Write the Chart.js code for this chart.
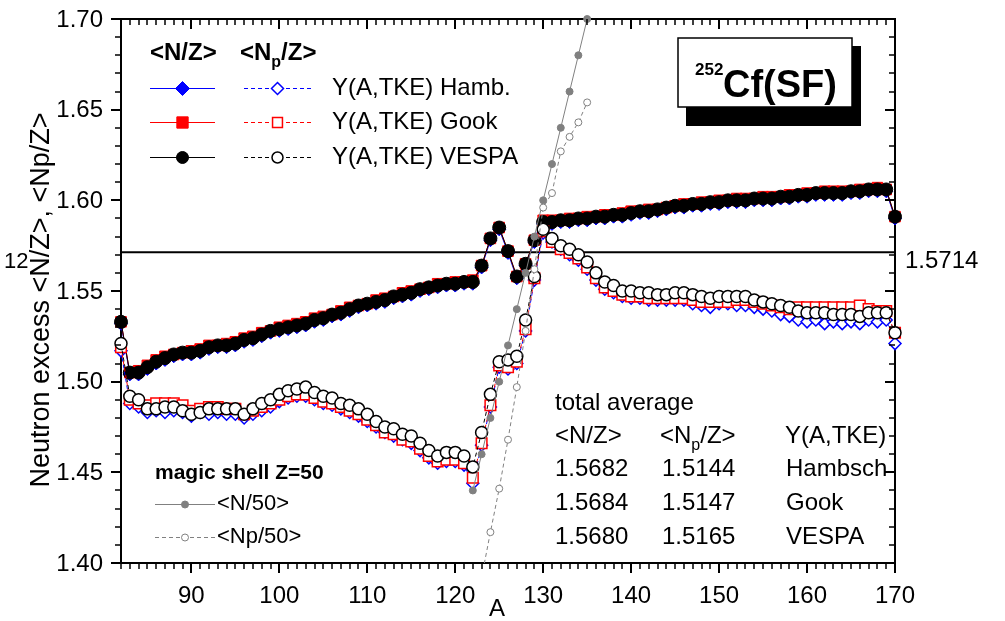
<!DOCTYPE html>
<html>
<head>
<meta charset="utf-8">
<title>252Cf(SF) neutron excess</title>
<script src="https://cdn.jsdelivr.net/npm/chart.js@4.4.0/dist/chart.umd.min.js"></script>
<style>
  html, body { margin: 0; padding: 0; background: #fff; }
  #box { width: 1005px; height: 621px; position: relative; }
</style>
</head>
<body>
<div id="box"><canvas id="nzChart" width="1005" height="621"></canvas></div>
<script>
// fragment mass numbers
const massNumbers = [
  82, 83, 84, 85, 86, 87, 88, 89, 90, 91,
  92, 93, 94, 95, 96, 97, 98, 99, 100, 101,
  102, 103, 104, 105, 106, 107, 108, 109, 110, 111,
  112, 113, 114, 115, 116, 117, 118, 119, 120, 121,
  122, 123, 124, 125, 126, 127, 128, 129, 130, 131,
  132, 133, 134, 135, 136, 137, 138, 139, 140, 141,
  142, 143, 144, 145, 146, 147, 148, 149, 150, 151,
  152, 153, 154, 155, 156, 157, 158, 159, 160, 161,
  162, 163, 164, 165, 166, 167, 168, 169, 170
];

// <N/Z> per mass, three yield sets
const nzHamb = [
  1.532, 1.504, 1.504, 1.507, 1.510, 1.512, 1.514, 1.515, 1.515, 1.516,
  1.518, 1.519, 1.519, 1.520, 1.522, 1.523, 1.525, 1.527, 1.528, 1.529,
  1.530, 1.531, 1.533, 1.534, 1.536, 1.537, 1.539, 1.541, 1.542, 1.543,
  1.544, 1.546, 1.547, 1.548, 1.550, 1.551, 1.552, 1.553, 1.553, 1.554,
  1.554, 1.563, 1.578, 1.584, 1.571, 1.557, 1.564, 1.577, 1.587, 1.587,
  1.588, 1.588, 1.589, 1.589, 1.590, 1.590, 1.591, 1.591, 1.592, 1.593,
  1.593, 1.594, 1.595, 1.596, 1.596, 1.597, 1.597, 1.598, 1.598, 1.599,
  1.599, 1.599, 1.600, 1.600, 1.600, 1.601, 1.601, 1.602, 1.602, 1.603,
  1.603, 1.603, 1.603, 1.604, 1.604, 1.605, 1.605, 1.605, 1.590
];
const nzGook = [
  1.533, 1.505, 1.506, 1.509, 1.512, 1.514, 1.515, 1.516, 1.517, 1.518,
  1.520, 1.520, 1.521, 1.522, 1.524, 1.525, 1.527, 1.528, 1.530, 1.531,
  1.532, 1.533, 1.535, 1.536, 1.537, 1.539, 1.541, 1.542, 1.543, 1.545,
  1.546, 1.547, 1.549, 1.550, 1.551, 1.552, 1.554, 1.554, 1.555, 1.555,
  1.556, 1.564, 1.579, 1.585, 1.572, 1.558, 1.565, 1.578, 1.589, 1.589,
  1.589, 1.590, 1.590, 1.591, 1.591, 1.592, 1.592, 1.593, 1.594, 1.594,
  1.595, 1.595, 1.596, 1.597, 1.598, 1.598, 1.599, 1.599, 1.600, 1.600,
  1.601, 1.601, 1.601, 1.602, 1.602, 1.602, 1.603, 1.603, 1.604, 1.604,
  1.605, 1.605, 1.605, 1.605, 1.606, 1.606, 1.607, 1.606, 1.591
];
const nzVespa = [
  1.533, 1.505, 1.505, 1.508, 1.511, 1.513, 1.515, 1.516, 1.516, 1.517,
  1.519, 1.520, 1.520, 1.521, 1.523, 1.524, 1.526, 1.528, 1.529, 1.530,
  1.531, 1.532, 1.534, 1.535, 1.537, 1.538, 1.540, 1.542, 1.543, 1.544,
  1.545, 1.547, 1.548, 1.549, 1.551, 1.552, 1.553, 1.554, 1.554, 1.555,
  1.555, 1.564, 1.579, 1.585, 1.572, 1.558, 1.565, 1.578, 1.588, 1.588,
  1.589, 1.589, 1.590, 1.590, 1.591, 1.591, 1.592, 1.592, 1.593, 1.594,
  1.594, 1.595, 1.596, 1.597, 1.597, 1.598, 1.598, 1.599, 1.599, 1.600,
  1.600, 1.600, 1.601, 1.601, 1.601, 1.602, 1.602, 1.603, 1.603, 1.604,
  1.604, 1.604, 1.604, 1.605, 1.605, 1.606, 1.606, 1.606, 1.591
];

// <Np/Z> per mass (after prompt neutron emission)
const npHamb = [
  1.517, 1.488, 1.486, 1.483, 1.484, 1.483, 1.484, 1.483, 1.481, 1.483,
  1.482, 1.483, 1.482, 1.482, 1.480, 1.482, 1.484, 1.486, 1.489, 1.491,
  1.492, 1.492, 1.490, 1.488, 1.487, 1.485, 1.483, 1.481, 1.478, 1.475,
  1.472, 1.470, 1.468, 1.466, 1.462, 1.458, 1.455, 1.456, 1.456, 1.454,
  1.444, 1.465, 1.486, 1.508, 1.507, 1.510, 1.528, 1.556, 1.582, 1.577,
  1.573, 1.570, 1.567, 1.562, 1.556, 1.551, 1.549, 1.547, 1.546, 1.546,
  1.545, 1.545, 1.545, 1.545, 1.545, 1.543, 1.542, 1.541, 1.543, 1.543,
  1.542, 1.542, 1.541, 1.540, 1.539, 1.537, 1.536, 1.534, 1.533, 1.534,
  1.532, 1.533, 1.532, 1.533, 1.532, 1.534, 1.533, 1.534, 1.521
];
const npGook = [
  1.519, 1.490, 1.488, 1.487, 1.488, 1.488, 1.488, 1.487, 1.484, 1.485,
  1.486, 1.486, 1.485, 1.485, 1.482, 1.484, 1.486, 1.488, 1.490, 1.492,
  1.493, 1.493, 1.491, 1.489, 1.488, 1.486, 1.484, 1.482, 1.479, 1.476,
  1.472, 1.471, 1.468, 1.467, 1.463, 1.459, 1.456, 1.457, 1.457, 1.455,
  1.447, 1.466, 1.487, 1.509, 1.508, 1.511, 1.529, 1.557, 1.583, 1.577,
  1.573, 1.571, 1.568, 1.563, 1.557, 1.552, 1.550, 1.548, 1.547, 1.547,
  1.546, 1.546, 1.546, 1.546, 1.546, 1.545, 1.544, 1.544, 1.544, 1.544,
  1.545, 1.545, 1.544, 1.543, 1.542, 1.541, 1.540, 1.541, 1.541, 1.541,
  1.541, 1.541, 1.541, 1.541, 1.542, 1.540, 1.539, 1.539, 1.527
];
const npVespa = [
  1.521, 1.492, 1.490, 1.485, 1.485, 1.486, 1.486, 1.484, 1.482, 1.483,
  1.485, 1.485, 1.485, 1.485, 1.482, 1.485, 1.488, 1.490, 1.493, 1.495,
  1.496, 1.497, 1.494, 1.492, 1.491, 1.488, 1.487, 1.485, 1.482, 1.478,
  1.475, 1.474, 1.471, 1.470, 1.466, 1.462, 1.459, 1.461, 1.461, 1.459,
  1.453, 1.472, 1.493, 1.511, 1.512, 1.514, 1.534, 1.558, 1.584, 1.579,
  1.575, 1.573, 1.570, 1.566, 1.560, 1.555, 1.553, 1.550, 1.550, 1.549,
  1.549, 1.548, 1.548, 1.549, 1.549, 1.548, 1.547, 1.546, 1.547, 1.547,
  1.547, 1.547, 1.545, 1.544, 1.543, 1.542, 1.541, 1.539, 1.538, 1.538,
  1.538, 1.537, 1.537, 1.537, 1.536, 1.538, 1.538, 1.538, 1.527
];

// magic shell Z=50 reference lines
const shellMassN = [122, 123, 124, 125, 126, 127, 128, 129, 130, 131, 132, 133, 134, 135];
const n50 = [1.44, 1.46, 1.48, 1.50, 1.52, 1.54, 1.56, 1.58, 1.60, 1.62, 1.64, 1.66, 1.68, 1.70];
const shellMassNp = [123, 124, 125, 126, 127, 128, 129, 130, 131, 132, 133, 134, 135];
const np50 = [1.392, 1.417, 1.441, 1.468, 1.497, 1.528, 1.562, 1.596, 1.604, 1.627, 1.635, 1.643, 1.654];

const totalAverageNZ = 1.5714;

const xTickValues = [90, 100, 110, 120, 130, 140, 150, 160, 170];
const yTickValues = [1.40, 1.45, 1.50, 1.55, 1.60, 1.65, 1.70];

const averagesTable = [
  ['1.5682', '1.5144', 'Hambsch'],
  ['1.5684', '1.5147', 'Gook'],
  ['1.5680', '1.5165', 'VESPA']
];

const FONT = '"Liberation Sans", Arial, Helvetica, sans-serif';
const GRAY = '#808080';
// plot frame in canvas pixels
const AREA = { left: 121, top: 19, right: 895, bottom: 563 };

function toPoints(xs, ys) {
  return ys.map((v, i) => ({ x: xs[i], y: v }));
}

function drawMarker(ctx, kind, x, y, r, fill, stroke, lw) {
  ctx.beginPath();
  if (kind === 'circle') {
    ctx.arc(x, y, r, 0, Math.PI * 2);
  } else if (kind === 'rect') {
    const h = r * Math.SQRT1_2;
    ctx.rect(x - h, y - h, 2 * h, 2 * h);
  } else {
    ctx.moveTo(x, y - r);
    ctx.lineTo(x + r, y);
    ctx.lineTo(x, y + r);
    ctx.lineTo(x - r, y);
    ctx.closePath();
  }
  ctx.fillStyle = fill;
  ctx.fill();
  ctx.lineWidth = lw;
  ctx.strokeStyle = stroke;
  ctx.stroke();
}

function legendRow(ctx, x1, x2, y, color, dashed, kind, r, fill, lw) {
  ctx.save();
  ctx.strokeStyle = color;
  ctx.lineWidth = 1;
  ctx.setLineDash(dashed ? [4, 3] : []);
  ctx.beginPath();
  ctx.moveTo(x1, y + 0.5);
  ctx.lineTo(x2, y + 0.5);
  ctx.stroke();
  ctx.setLineDash([]);
  drawMarker(ctx, kind, (x1 + x2) / 2, y + 0.5, r, fill, color, lw);
  ctx.restore();
}

// "<Np/Z>" with a subscript p
function subText(ctx, x, y, size, weight) {
  const big = weight + ' ' + size + 'px ' + FONT;
  const small = weight + ' ' + Math.round(size * 0.65) + 'px ' + FONT;
  ctx.font = big;
  ctx.fillText('<N', x, y);
  x += ctx.measureText('<N').width;
  ctx.font = small;
  ctx.fillText('p', x, y + size * 0.38);
  x += ctx.measureText('p').width;
  ctx.font = big;
  ctx.fillText('/Z>', x, y);
}

function drawAxes(chart) {
  const { ctx, chartArea: a, scales: { x, y } } = chart;
  ctx.save();
  ctx.setLineDash([]);
  ctx.strokeStyle = '#000';
  // bottom ticks point out, top ticks point in
  for (let v = 82; v <= 170; v++) {
    const px = Math.round(x.getPixelForValue(v));
    const major = v % 10 === 0;
    const len = major ? 10 : 6;
    ctx.lineWidth = major ? 2 : 1.5;
    ctx.beginPath();
    ctx.moveTo(px, a.bottom);
    ctx.lineTo(px, a.bottom + len);
    ctx.moveTo(px, a.top);
    ctx.lineTo(px, a.top + len);
    ctx.stroke();
  }
  // left ticks point out, right ticks point in
  for (let i = 0; i <= 30; i++) {
    const py = Math.round(y.getPixelForValue(1.40 + i * 0.01));
    const major = i % 5 === 0;
    const len = major ? 10 : 6;
    ctx.lineWidth = major ? 2 : 1.5;
    ctx.beginPath();
    ctx.moveTo(a.left, py);
    ctx.lineTo(a.left - len, py);
    ctx.moveTo(a.right, py);
    ctx.lineTo(a.right - len, py);
    ctx.stroke();
  }
  // y tick labels
  ctx.fillStyle = '#000';
  ctx.font = '24px ' + FONT;
  ctx.textAlign = 'right';
  ctx.textBaseline = 'middle';
  yTickValues.forEach((v) => {
    ctx.fillText(v.toFixed(2), a.left - 18, y.getPixelForValue(v) + 1);
  });
  ctx.restore();
}

const framePlugin = {
  id: 'frame',
  beforeDatasetsDraw(chart) {
    const { ctx, chartArea: a } = chart;
    ctx.save();
    ctx.setLineDash([]);
    ctx.strokeStyle = '#000';
    ctx.lineWidth = 2;
    ctx.strokeRect(a.left, a.top, a.right - a.left, a.bottom - a.top);
    ctx.restore();
  },
  afterDraw(chart) {
    const { ctx, scales: { y } } = chart;
    drawAxes(chart);
    ctx.save();
    ctx.fillStyle = '#000';
    ctx.textBaseline = 'middle';
    ctx.textAlign = 'left';

    // axis titles
    ctx.save();
    ctx.translate(42, 300);
    ctx.rotate(-Math.PI / 2);
    ctx.textAlign = 'center';
    ctx.font = '27px ' + FONT;
    ctx.fillText('Neutron excess <N/Z>, <Np/Z>', 0, 0);
    ctx.restore();
    ctx.font = '22px ' + FONT;
    ctx.fillText('12', 4, 262);
    ctx.textAlign = 'center';
    ctx.font = '24px ' + FONT;
    ctx.fillText('A', 497, 609);
    ctx.textAlign = 'left';

    // value of the average line, right of the frame
    ctx.font = '24px ' + FONT;
    ctx.fillText(totalAverageNZ.toFixed(4), 905, y.getPixelForValue(totalAverageNZ) + 9);

    // top-left legend
    ctx.font = 'bold 24px ' + FONT;
    ctx.fillText('<N/Z>', 150, 53);
    subText(ctx, 240, 53, 24, 'bold');
    legendRow(ctx, 150, 215, 88, '#0000ff', false, 'rectRot', 7, '#0000ff', 1);
    legendRow(ctx, 244, 311, 88, '#0000ff', true, 'rectRot', 6, '#fff', 1.5);
    legendRow(ctx, 150, 215, 122, '#ff0000', false, 'rect', 8, '#ff0000', 1);
    legendRow(ctx, 244, 311, 122, '#ff0000', true, 'rect', 7, '#fff', 1.5);
    legendRow(ctx, 150, 215, 157, '#000', false, 'circle', 6, '#000', 1);
    legendRow(ctx, 244, 311, 157, '#000', true, 'circle', 5.5, '#fff', 1.5);
    ctx.fillStyle = '#000';
    ctx.font = '24px ' + FONT;
    ctx.fillText('Y(A,TKE) Hamb.', 332, 88);
    ctx.fillText('Y(A,TKE) Gook', 332, 122);
    ctx.fillText('Y(A,TKE) VESPA', 332, 157);

    // title box with drop shadow
    ctx.fillStyle = '#000';
    ctx.fillRect(686, 46, 175, 80);
    ctx.fillStyle = '#fff';
    ctx.fillRect(678, 38, 174, 69);
    ctx.strokeStyle = '#000';
    ctx.lineWidth = 1.5;
    ctx.strokeRect(678, 38, 174, 69);
    ctx.fillStyle = '#000';
    ctx.textBaseline = 'alphabetic';
    ctx.font = 'bold 17px ' + FONT;
    ctx.fillText('252', 695, 75);
    ctx.font = 'bold 38px ' + FONT;
    ctx.fillText('Cf(SF)', 723, 97);
    ctx.textBaseline = 'middle';

    // magic shell legend
    ctx.font = 'bold 21px ' + FONT;
    ctx.fillText('magic shell Z=50', 155, 473);
    legendRow(ctx, 155, 215, 504, GRAY, false, 'circle', 3.5, GRAY, 1);
    legendRow(ctx, 155, 215, 537, GRAY, true, 'circle', 3.5, '#fff', 1);
    ctx.fillStyle = '#000';
    ctx.font = '22px ' + FONT;
    ctx.fillText('<N/50>', 217, 504);
    ctx.fillText('<Np/50>', 217, 537);

    // averages table
    ctx.font = '24px ' + FONT;
    ctx.fillText('total average', 555, 403);
    ctx.fillText('<N/Z>', 555, 436);
    subText(ctx, 660, 436, 24, 'normal');
    ctx.font = '24px ' + FONT;
    ctx.fillText('Y(A,TKE)', 785, 436);
    averagesTable.forEach((row, i) => {
      const ty = 469 + i * 34;
      ctx.fillText(row[0], 555, ty);
      ctx.fillText(row[1], 662, ty);
      ctx.fillText(row[2], 786, ty);
    });
    ctx.restore();
  }
};

const edgeClip = 12;

const ctx = document.getElementById('nzChart').getContext('2d');
const nzChart = new Chart(ctx, {
  type: 'line',
  data: {
    datasets: [
      {
        label: 'total average',
        data: [{ x: 82, y: totalAverageNZ }, { x: 170, y: totalAverageNZ }],
        borderColor: '#000', borderWidth: 2, pointRadius: 0, order: 20
      },
      {
        label: '<N/Z> Hamb.', data: toPoints(massNumbers, nzHamb),
        borderColor: '#0000ff', borderWidth: 1, pointStyle: 'rectRot', pointRadius: 6.5,
        pointBackgroundColor: '#0000ff', pointBorderColor: '#0000ff', order: 12, clip: edgeClip
      },
      {
        label: '<N/Z> Gook', data: toPoints(massNumbers, nzGook),
        borderColor: '#ff0000', borderWidth: 1, pointStyle: 'rect', pointRadius: 7.5,
        pointBackgroundColor: '#ff0000', pointBorderColor: '#ff0000', order: 11, clip: edgeClip
      },
      {
        label: '<N/Z> VESPA', data: toPoints(massNumbers, nzVespa),
        borderColor: '#000', borderWidth: 1, pointStyle: 'circle', pointRadius: 6.5,
        pointBackgroundColor: '#000', pointBorderColor: '#000', order: 10, clip: edgeClip
      },
      {
        label: '<Np/Z> Hamb.', data: toPoints(massNumbers, npHamb),
        borderColor: '#0000ff', borderWidth: 1, borderDash: [4, 3], pointStyle: 'rectRot', pointRadius: 6,
        pointBackgroundColor: '#fff', pointBorderColor: '#0000ff', pointBorderWidth: 1.5, order: 9, clip: edgeClip
      },
      {
        label: '<Np/Z> Gook', data: toPoints(massNumbers, npGook),
        borderColor: '#ff0000', borderWidth: 1, borderDash: [4, 3], pointStyle: 'rect', pointRadius: 7.5,
        pointBackgroundColor: '#fff', pointBorderColor: '#ff0000', pointBorderWidth: 1.5, order: 8, clip: edgeClip
      },
      {
        label: '<Np/Z> VESPA', data: toPoints(massNumbers, npVespa),
        borderColor: '#000', borderWidth: 1, borderDash: [4, 3], pointStyle: 'circle', pointRadius: 6,
        pointBackgroundColor: '#fff', pointBorderColor: '#000', pointBorderWidth: 1.5, order: 7, clip: edgeClip
      },
      {
        label: '<N/50>', data: toPoints(shellMassN, n50),
        borderColor: GRAY, borderWidth: 1, pointStyle: 'circle', pointRadius: 3.5,
        pointBackgroundColor: GRAY, pointBorderColor: GRAY, order: 2,
        clip: { left: edgeClip, right: edgeClip, top: edgeClip, bottom: 0 }
      },
      {
        label: '<Np/50>', data: toPoints(shellMassNp, np50),
        borderColor: GRAY, borderWidth: 1, borderDash: [4, 3], pointStyle: 'circle', pointRadius: 3.5,
        pointBackgroundColor: '#fff', pointBorderColor: GRAY, order: 1,
        clip: { left: edgeClip, right: edgeClip, top: edgeClip, bottom: 0 }
      }
    ]
  },
  options: {
    responsive: false,
    animation: false,
    devicePixelRatio: 1,
    layout: { autoPadding: false, padding: { left: 0, top: AREA.top, right: 1005 - AREA.right, bottom: 0 } },
    elements: { line: { tension: 0, fill: false } },
    plugins: { legend: { display: false }, tooltip: { enabled: false } },
    scales: {
      x: {
        type: 'linear', min: 82, max: 170,
        afterFit: (s) => { s.height = 621 - AREA.bottom; },
        afterBuildTicks: (s) => { s.ticks = xTickValues.map((v) => ({ value: v })); },
        grid: { display: false, drawTicks: false },
        border: { display: false },
        ticks: { padding: 19, autoSkip: false, maxRotation: 0, color: '#000', font: { family: FONT, size: 24 }, callback: (v) => String(v) }
      },
      y: {
        type: 'linear', min: 1.40, max: 1.70,
        afterFit: (s) => { s.width = AREA.left; },
        grid: { display: false, drawTicks: false },
        border: { display: false },
        ticks: { display: false }
      }
    }
  },
  plugins: [framePlugin]
});
</script>
</body>
</html>
